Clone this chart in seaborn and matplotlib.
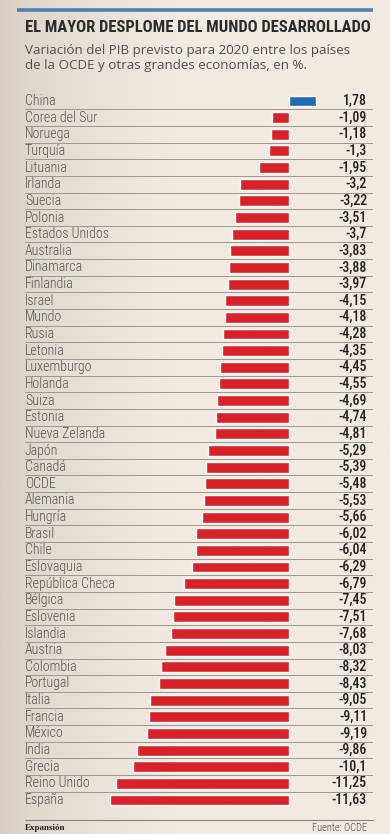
import numpy as np
import pandas as pd
import matplotlib
matplotlib.use("Agg")
import matplotlib.pyplot as plt
import seaborn as sns

# DATA
COUNTRIES = [
    "China", "Corea del Sur", "Noruega", "Turquía", "Lituania", "Irlanda",
    "Suecia", "Polonia", "Estados Unidos", "Australia", "Dinamarca",
    "Finlandia", "Israel", "Mundo", "Rusia", "Letonia", "Luxemburgo",
    "Holanda", "Suiza", "Estonia", "Nueva Zelanda", "Japón", "Canadá",
    "OCDE", "Alemania", "Hungría", "Brasil", "Chile", "Eslovaquia",
    "República Checa", "Bélgica", "Eslovenia", "Islandia", "Austria",
    "Colombia", "Portugal", "Italia", "Francia", "México", "India",
    "Grecia", "Reino Unido", "España",
]
VALUES = [
    1.78, -1.09, -1.18, -1.3, -1.95, -3.2, -3.22, -3.51, -3.7, -3.83,
    -3.88, -3.97, -4.15, -4.18, -4.28, -4.35, -4.45, -4.55, -4.69, -4.74,
    -4.81, -5.29, -5.39, -5.48, -5.53, -5.66, -6.02, -6.04, -6.29, -6.79,
    -7.45, -7.51, -7.68, -8.03, -8.32, -8.43, -9.05, -9.11, -9.19, -9.86,
    -10.1, -11.25, -11.63,
]
VALUE_LABELS = [
    "1,78", "-1,09", "-1,18", "-1,3", "-1,95", "-3,2", "-3,22", "-3,51",
    "-3,7", "-3,83", "-3,88", "-3,97", "-4,15", "-4,18", "-4,28", "-4,35",
    "-4,45", "-4,55", "-4,69", "-4,74", "-4,81", "-5,29", "-5,39", "-5,48",
    "-5,53", "-5,66", "-6,02", "-6,04", "-6,29", "-6,79", "-7,45", "-7,51",
    "-7,68", "-8,03", "-8,32", "-8,43", "-9,05", "-9,11", "-9,19", "-9,86",
    "-10,1", "-11,25", "-11,63",
]
TITLE = "EL MAYOR DESPLOME DEL MUNDO DESARROLLADO"
SUBTITLE = "Variación del PIB previsto para 2020 entre los países\nde la OCDE y otras grandes economías, en %."

RED = "#d8222a"
BLUE = "#1e6cb4"
COND = ["Roboto Condensed", "DejaVu Sans"]

W, H = 390, 834


def px(x, y):
    """pixel (from top-left) -> figure fraction"""
    return x / W, 1 - y / H


df = pd.DataFrame({"pais": COUNTRIES, "valor": VALUES})
df["signo"] = np.where(df["valor"] >= 0, "pos", "neg")

sns.set_theme(style="white")
plt.rcParams["font.family"] = ["Roboto", "DejaVu Sans"]

fig = plt.figure(figsize=(W / 100, H / 100), dpi=100)

# background gradient
bg = fig.add_axes([0, 0, 1, 1])
grad = np.linspace(0, 1, 256)
grad = np.clip(grad * 2.2, 0, 1) ** 0.6
left = np.array([214, 204, 193]) / 255
right = np.array([242, 234, 225]) / 255
img = left[None, :] * (1 - grad[:, None]) + right[None, :] * grad[:, None]
bg.imshow(img[None, :, :], aspect="auto", extent=[0, 1, 0, 1])
bg.set_axis_off()

# top blue rule
bg.plot([17 / W, 373 / W], [1 - 10 / H] * 2, color="#4f80b6", lw=2.6,
        solid_capstyle="butt", transform=fig.transFigure)

# title / subtitle
fig.text(*px(25, 28), TITLE, fontsize=11.9, fontweight="bold", color="#2b2b2b",
         family=COND, va="center", ha="left")
fig.text(*px(25, 58), SUBTITLE, fontsize=9.6, color="#4f4f4f",
         family=["Open Sans", "DejaVu Sans"], va="center", ha="left",
         linespacing=1.15)

# bars axes
first_c, last_c = 101, 800
step = (last_c - first_c) / (len(COUNTRIES) - 1)
top_px = first_c - step / 2
bot_px = last_c + step / 2
x0_px, x1_px = 25, 373
zero_px, scale = 289, 15.4

ax = fig.add_axes([x0_px / W, 1 - bot_px / H, (x1_px - x0_px) / W, (bot_px - top_px) / H])
ax.patch.set_alpha(0)
sns.barplot(data=df, x="valor", y="pais", hue="signo",
            palette={"pos": BLUE, "neg": RED}, legend=False,
            orient="h", width=0.66, saturation=1, ax=ax)
ax.set_xlim((x0_px - zero_px) / scale, (x1_px - zero_px) / scale)
ax.set_ylim(len(COUNTRIES) - 0.5, -0.5)
ax.set_xticks([])
ax.set_yticks([])
ax.set_xlabel("")
ax.set_ylabel("")
for s in ax.spines.values():
    s.set_visible(False)

for i, (name, lab) in enumerate(zip(COUNTRIES, VALUE_LABELS)):
    ax.text(0.0, i, name, transform=ax.get_yaxis_transform(), ha="left",
            va="center", fontsize=10, color="#555555", family=COND,
            fontweight="light")
    ax.text(342 / 348, i, lab, transform=ax.get_yaxis_transform(), ha="right",
            va="center", fontsize=10, color="#222222", family=COND,
            fontweight="medium")
    if i < len(COUNTRIES) - 1:
        ax.axhline(i + 0.5, color="#9d968d", lw=0.7)

# footer
bg.plot([25 / W, 373 / W], [1 - 820 / H] * 2, color="#8a847c", lw=0.8,
        transform=fig.transFigure)
fig.text(*px(25, 828), "Expansión", fontsize=6.5, fontweight="bold",
         family=["Liberation Serif", "DejaVu Serif"], color="#222222",
         va="center", ha="left")
fig.text(*px(367, 828), "Fuente: OCDE", fontsize=7.5, color="#444444",
         family=COND, fontweight="light", va="center", ha="right")

fig.savefig("out.png", dpi=100)
